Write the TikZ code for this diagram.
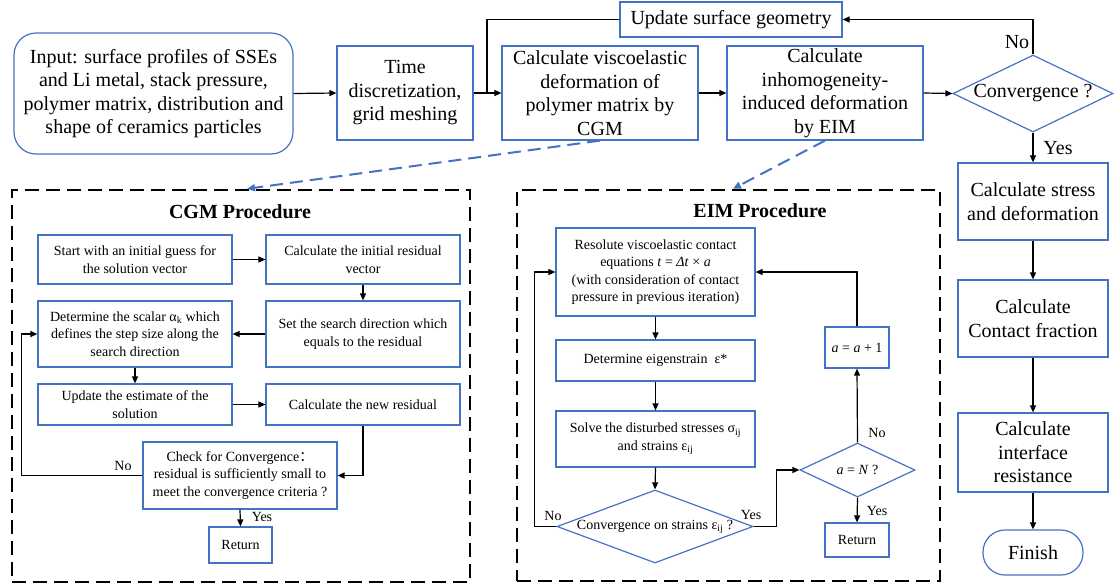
\documentclass[tikz,border=0pt]{standalone}
\usepackage{fontspec}
\setmainfont{Liberation Serif}
\newfontfamily\cjk{Noto Sans CJK SC}
\usetikzlibrary{arrows.meta,shapes.geometric}

\definecolor{boxblue}{RGB}{68,114,196}

\begin{document}
\begin{tikzpicture}[
  x=1pt, y=-1pt,
  box/.style={draw=boxblue, line width=1.2pt, align=center, inner sep=2pt},
  bigbox/.style={box, font=\fontsize{20}{23.5}\selectfont},
  smallbox/.style={box, font=\fontsize{14}{17.5}\selectfont},
  decision/.style={diamond, draw=boxblue, line width=1.2pt, inner sep=0pt, align=center},
  frame/.style={draw, line width=2.4pt, dash pattern=on 14pt off 7pt},
  arrow/.style={-{Triangle[length=7pt,width=6pt]}, line width=1.2pt},
  link/.style={line width=1.2pt},
  dashedarrow/.style={-{Triangle[length=8pt,width=7pt]}, boxblue, line width=2pt, dash pattern=on 13pt off 7pt},
  biglbl/.style={font=\fontsize{20}{24}\selectfont, inner sep=0pt},
  lbl/.style={font=\fontsize{14}{17}\selectfont, inner sep=0pt},
  title/.style={font=\fontsize{20}{24}\selectfont\bfseries},
]
\useasboundingbox (0,0) rectangle (1115,587);

% ===== Main loop =====
\node[bigbox, rounded corners=22pt, minimum width=279pt, minimum height=121pt] (input) at (153.5,93.5)
  {Input: surface profiles of SSEs\\and Li metal, stack pressure,\\polymer matrix, distribution and\\shape of ceramics particles};
\node[bigbox, minimum width=136pt, minimum height=94pt] (timedisc) at (405,93) {Time\\discretization,\\grid meshing};
\node[bigbox, minimum width=196pt, minimum height=94pt] (visco) at (600,93) {Calculate viscoelastic\\deformation of\\polymer matrix by\\CGM};
\node[bigbox, minimum width=196pt, minimum height=94pt] (eim) at (825,93) {Calculate\\inhomogeneity-\\induced deformation\\by EIM};
\node[decision, font=\fontsize{20}{24}\selectfont, shape aspect=2.08, minimum width=160pt, minimum height=77pt] (conv) at (1033,93.5) {Convergence ?};
\node[bigbox, minimum width=222pt, minimum height=35pt, inner sep=0pt] (update) at (731,19.5) {Update surface geometry};
\coordinate (jn) at (487,93);

\draw[arrow] (input.east) -- (timedisc.west);
\draw[arrow] (timedisc.east) -- (visco.west);
\draw[link] (update.west) -| (jn);
\draw[arrow] (visco.east) -- (eim.west);
\draw[arrow] (eim.east) -- (conv.west);
\draw[arrow] (conv.north) |- (update.east);
\node[biglbl] (convno) at (1017,42) {No};

% ===== Post-processing column =====
\node[bigbox, minimum width=150pt, minimum height=77pt] (stress) at (1033,201.5) {Calculate stress\\and deformation};
\node[bigbox, minimum width=150pt, minimum height=77pt] (contact) at (1033,318.5) {Calculate\\Contact fraction};
\node[bigbox, minimum width=150pt, minimum height=79pt] (resist) at (1033,452.5) {Calculate\\interface\\resistance};
\node[bigbox, rounded corners=22pt, minimum width=100pt, minimum height=45pt] (finish) at (1033,552.5) {Finish};

\draw[arrow] (conv.south) -- (stress.north);
\node[biglbl] (convyes) at (1058,148) {Yes};
\draw[arrow] (stress.south) -- (contact.north);
\draw[arrow] (contact.south) -- (resist.north);
\draw[arrow] (resist.south) -- (finish.north);

% ===== CGM procedure =====
\node[frame, minimum width=458pt, minimum height=392pt] (cgmbox) at (241,386) {};
\node[title] (cgmtitle) at (240,212) {CGM Procedure};

\node[smallbox, minimum width=194pt, minimum height=49pt] (c1) at (135,259.5) {Start with an initial guess for\\the solution vector};
\node[smallbox, minimum width=194pt, minimum height=49pt] (c2) at (363,259.5) {Calculate the initial residual\\vector};
\node[smallbox, minimum width=194pt, minimum height=66pt] (c3) at (135,334) {Determine the scalar α\textsubscript{k} which\\defines the step size along the\\search direction};
\node[smallbox, minimum width=194pt, minimum height=66pt] (c4) at (363,334) {Set the search direction which\\equals to the residual};
\node[smallbox, minimum width=194pt, minimum height=41pt] (c5) at (135,404.5) {Update the estimate of the\\solution};
\node[smallbox, minimum width=194pt, minimum height=41pt] (c6) at (363,404.5) {Calculate the new residual};
\node[smallbox, minimum width=194pt, minimum height=67pt] (c7) at (240,475.5) {Check for Convergence{\cjk ：}\\residual is sufficiently small to\\meet the convergence criteria ?};
\node[smallbox, minimum width=63pt, minimum height=36pt] (c8) at (240.5,545) {Return};

\draw[arrow] (c1.east) -- (c2.west);
\draw[arrow] (c2.south) -- (c4.north);
\draw[arrow] (c4.west) -- (c3.east);
\draw[arrow] (c3.south) -- (c5.north);
\draw[arrow] (c5.east) -- (c6.west);
\draw[arrow] (c6.south) |- (c7.east);
\draw[arrow] (c7.west) -- ++(-121,0) |- (c3.west);
\node[lbl] (cgmno) at (123,466) {No};
\draw[arrow] (c7.south) -- (c8.north);
\node[lbl] (cgmyes) at (262,517) {Yes};

% ===== EIM procedure =====
\node[frame, minimum width=423pt, minimum height=391pt] (eimbox) at (728.5,385.5) {};
\node[title] (eimtitle) at (760,211) {EIM Procedure};

\node[smallbox, minimum width=199pt, minimum height=88pt] (e1) at (655.5,272)
  {Resolute viscoelastic contact\\equations \textit{t} = \textit{Δt} × \textit{a}\\(with consideration of contact\\pressure in previous iteration)};
\node[smallbox, minimum width=199pt, minimum height=41pt] (e2) at (655.5,360.5) {Determine eigenstrain\ \ ε*};
\node[smallbox, minimum width=199pt, minimum height=56pt] (e3) at (655.5,439) {Solve the disturbed stresses σ\textsubscript{ij}\\and strains ε\textsubscript{ij}};
\node[decision, font=\fontsize{14}{17}\selectfont, shape aspect=2.68, minimum width=196pt, minimum height=73pt] (e4) at (655,526.5) {Convergence on strains ε\textsubscript{ij} ?};
\node[smallbox, minimum width=64pt, minimum height=41pt] (e5) at (857,347.5) {\textit{a} = \textit{a} + 1};
\node[decision, font=\fontsize{14}{17}\selectfont, shape aspect=2.13, minimum width=115pt, minimum height=54pt] (e6) at (857.5,470) {\textit{a} = \textit{N} ?};
\node[smallbox, minimum width=64pt, minimum height=34pt] (e7) at (857,540) {Return};

\draw[arrow] (e1.south) -- (e2.north);
\draw[arrow] (e2.south) -- (e3.north);
\draw[arrow] (e3.south) -- (e4.north);
\draw[arrow] (e4.west) -- ++(-22,0) |- (e1.west);
\node[lbl] (eimno) at (553,516) {No};
\draw[arrow] (e4.east) -- ++(23,0) |- (e6.west);
\node[lbl] (eimyes) at (751,515) {Yes};
\draw[arrow] (e6.north) -- (e5.south);
\node[lbl] (countno) at (877,433) {No};
\draw[arrow] (e5.north) |- (e1.east);
\draw[arrow] (e6.south) -- (e7.north);
\node[lbl] (countyes) at (877,511) {Yes};

% ===== Links to the sub-procedures =====
\draw[dashedarrow] (visco.south) -- ([xshift=6pt]cgmbox.north);
\draw[dashedarrow] (eim.south) -- ([xshift=4.5pt]eimbox.north);

\end{tikzpicture}
\end{document}
